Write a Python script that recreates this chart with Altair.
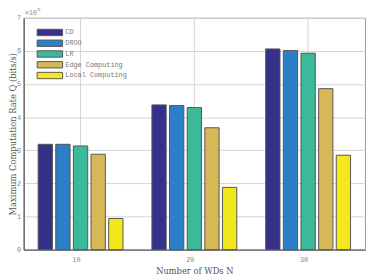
import altair as alt
import pandas as pd

groups = ["10", "20", "30"]
methods = ["CD", "DROO", "LR", "Edge Computing", "Local Computing"]
cd = [3.18, 4.37, 6.06]
droo = [3.18, 4.35, 6.01]
lr = [3.13, 4.29, 5.93]
edge = [2.88, 3.68, 4.86]
local = [0.94, 1.88, 2.85]
colors = ["#35318a", "#2a7fc8", "#3cb99b", "#d6b956", "#f2e81c"]
y_ticks = [0, 1, 2, 3, 4, 5, 6, 7]

rows = []
for m, vals in zip(methods, [cd, droo, lr, edge, local]):
    for g, v in zip(groups, vals):
        rows.append({"N": g, "method": m, "rate": v})
df = pd.DataFrame(rows)
gdf = pd.DataFrame({"N": groups})

W, H = 349, 237
mono = "Liberation Mono"
serif = "DejaVu Serif"
grid_c = "#d4d4d4"

xscale = alt.Scale(domain=groups, paddingInner=0, paddingOuter=0)

vgrid = alt.Chart(gdf).mark_rule(color=grid_c, strokeWidth=1).encode(
    x=alt.X("N:N", sort=groups, scale=xscale, bandPosition=0.5)
)

bars = alt.Chart(df).mark_bar(stroke="#555555", strokeWidth=1).encode(
    x=alt.X("N:N", sort=groups, scale=xscale,
            axis=alt.Axis(title="Number of WDs N", labelAngle=0, grid=False, ticks=False,
                          labelFont=mono, labelFontSize=7, labelColor="#888888",
                          labelPadding=10, titleFont=serif, titleFontSize=8.5,
                          titleFontWeight="normal", titleColor="#555555", titlePadding=4,
                          domainColor="#444444")),
    xOffset=alt.XOffset("method:N", sort=methods,
                        scale=alt.Scale(paddingInner=0.19, paddingOuter=0.82)),
    y=alt.Y("rate:Q", scale=alt.Scale(domain=[0, 7], nice=False),
            axis=alt.Axis(values=y_ticks, title="Maximum Computation Rate Q (bits/s)",
                          ticks=False, labelFont=mono, labelFontSize=7, labelColor="#888888",
                          labelPadding=3, titleFont=serif, titleFontSize=8.5,
                          titleFontWeight="normal", titleColor="#555555",
                          titleX=-6, titleY=H / 2, titleAngle=-90, titleBaseline="bottom",
                          domainColor="#444444", gridColor=grid_c)),
    color=alt.Color("method:N", sort=methods,
                    scale=alt.Scale(domain=methods, range=colors),
                    legend=alt.Legend(title=None, orient="none", legendX=23.3, legendY=11.5,
                                      symbolType="M-4.333,-1.083H4.333V1.083H-4.333Z",
                                      symbolSize=36, symbolStrokeColor="#555555",
                                      symbolStrokeWidth=1, symbolOpacity=1,
                                      labelOffset=12.3, rowPadding=0, padding=0,
                                      labelFont=mono, labelFontSize=7, labelColor="#777777")),
)

factor = alt.Chart(pd.DataFrame({"t": ["×10"]})).mark_text(
    align="left", baseline="alphabetic", font=mono, fontSize=7, color="#888888"
).encode(x=alt.value(1), y=alt.value(-3), text="t:N")

power = alt.Chart(pd.DataFrame({"t": ["6"]})).mark_text(
    align="left", baseline="alphabetic", font=mono, fontSize=5.5, color="#888888"
).encode(x=alt.value(13.8), y=alt.value(-7), text="t:N")

chart = alt.layer(vgrid, bars, factor, power).properties(
    width=W, height=H,
    autosize=alt.AutoSizeParams(type="none"),
    padding={"left": 16, "top": 7, "right": 1, "bottom": 26},
).configure_view(stroke="#999999", strokeWidth=1)

chart.save("out.html", embed_options={"renderer": "svg", "actions": False})
